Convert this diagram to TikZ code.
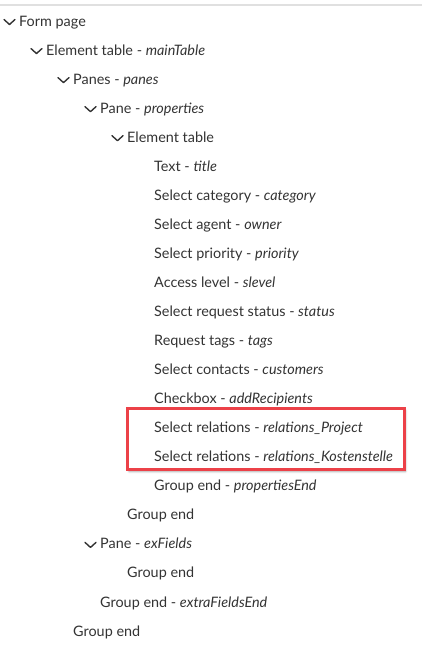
\documentclass[tikz,border=0pt]{standalone}
\usepackage{fontspec}
\setmainfont{Lato}
\usetikzlibrary{shadows.blur}
\definecolor{textgray}{HTML}{333333}
\definecolor{linegray}{HTML}{E0E0E0}
\definecolor{markred}{HTML}{EC4148}
\tikzset{
	row/.style = {anchor = base west, inner sep = 0pt, text = textgray, font = \fontsize{14.4}{16}\selectfont},
	chev/.style = {draw = textgray, line width = 1.4pt, line cap = round, line join = round},
	redbox/.style = {draw = markred, line width = 3pt, fill = white, blur shadow = {shadow xshift = 1.5pt, shadow yshift = -2.5pt, shadow opacity = 40}}
}
\begin{document}
\begin{tikzpicture}[x = 1pt, y = -1pt]
		\useasboundingbox (0,0) rectangle (422,649);
		\draw[linegray, line width = 1.2pt] (0,5) -- (422,5);
		\draw[redbox] (127.5,408) rectangle (404,469);
		\foreach \lvl/\i/\txt in {0/0/Form page, 1/1/Element table - \textit{mainTable}, 2/2/Panes - \textit{panes},
			3/3/Pane - \textit{properties}, 4/4/Element table, 5/5/Text - \textit{title},
			5/6/Select category - \textit{category}, 5/7/Select agent - \textit{owner},
			5/8/Select priority - \textit{priority}, 5/9/Access level - \textit{slevel},
			5/10/Select request status - \textit{status}, 5/11/Request tags - \textit{tags},
			5/12/Select contacts - \textit{customers}, 5/13/Checkbox - \textit{addRecipients},
			5/14/Select relations - \textit{relations\_Project}, 5/15/Select relations - \textit{relations\_Kostenstelle},
			5/16/Group end - \textit{propertiesEnd}, 4/17/Group end, 3/18/Pane - \textit{exFields},
			4/19/Group end, 3/20/Group end - \textit{extraFieldsEnd}, 2/21/Group end}{
			\node[row] (r\i) at (19 + 27*\lvl, 26 + 29.05*\i) {\txt};
			}
		% open groups
		\foreach \i in {0,1,2,3,4,18}{
			\draw[chev] (r\i.base west) ++(-15,-6.5) -- ++(5.5,5) -- ++(5.5,-5);
			}
\end{tikzpicture}
\end{document}
